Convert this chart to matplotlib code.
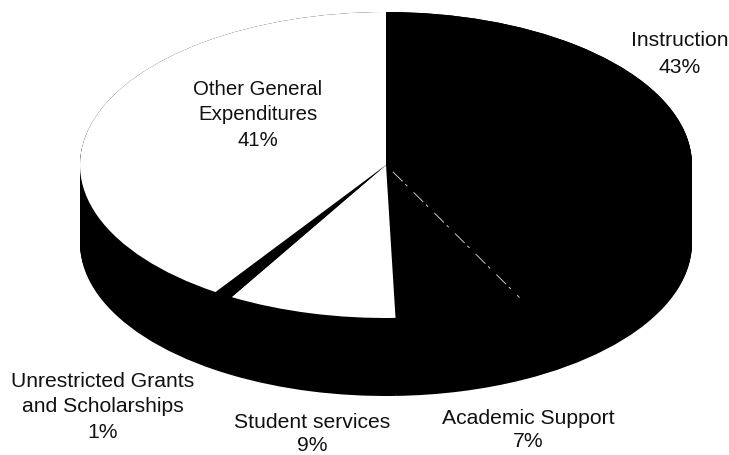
import numpy as np
import matplotlib
matplotlib.use("Agg")
import matplotlib.pyplot as plt

# Share of expenditures by category, clockwise from twelve o'clock
categories = ["Instruction", "Academic Support", "Student services",
              "Unrestricted Grants\nand Scholarships", "Other General\nExpenditures"]
shares = [43, 7, 9, 1, 41]
top_colors = ["black", "black", "white", "black", "white"]

W, H = 729, 455
CX, CY, RX, RY, DEPTH = 386, 165, 306, 153, 78

plt.rcParams["font.family"] = ["Liberation Sans", "DejaVu Sans"]
fig = plt.figure(figsize=(W / 100, H / 100), dpi=100, facecolor="white")
ax = fig.add_axes([0, 0, 1, 1])

# Stacked black discs form the side wall of the tilted pie
offset = DEPTH / RY
for d in np.linspace(offset, 0, 90):
    ax.pie(shares, colors=["black"] * len(shares), center=(0, -d), radius=1,
           startangle=90, counterclock=False)
ax.pie(shares, colors=top_colors, center=(0, 0), radius=1,
       startangle=90, counterclock=False)

# Squash the circle into an ellipse by giving the axes independent scales
ax.set_aspect("auto")
ax.set_xlim(-CX / RX, (W - CX) / RX)
ax.set_ylim((CY - H) / RY, CY / RY)
ax.axis("off")

# Faint seam between the two black slices on the top face
theta = np.pi / 2 - 2 * np.pi * shares[0] / sum(shares)
ax.plot([0.05 * np.cos(theta), 0.97 * np.cos(theta)],
        [0.05 * np.sin(theta), 0.97 * np.sin(theta)],
        color="#c8c8c8", lw=0.7, dashes=(14, 4, 3, 9))

# Slice captions: centre x, centre y, category index, line spacing, font size
captions = [
    (680, 54, 0, 1.5, 15.2), (528, 430, 1, 1.3, 15.2), (312, 434, 2, 1.25, 15.2),
    (103, 407, 3, 1.42, 15.2), (258, 115, 4, 1.46, 14.7),
]
for (x, y, i, spacing, size) in captions:
    fig.text(x / W, 1 - y / H, f"{categories[i]}\n{shares[i]}%", ha="center",
             va="center", fontsize=size, color="#111111", linespacing=spacing)

fig.savefig("out.png", dpi=100)
